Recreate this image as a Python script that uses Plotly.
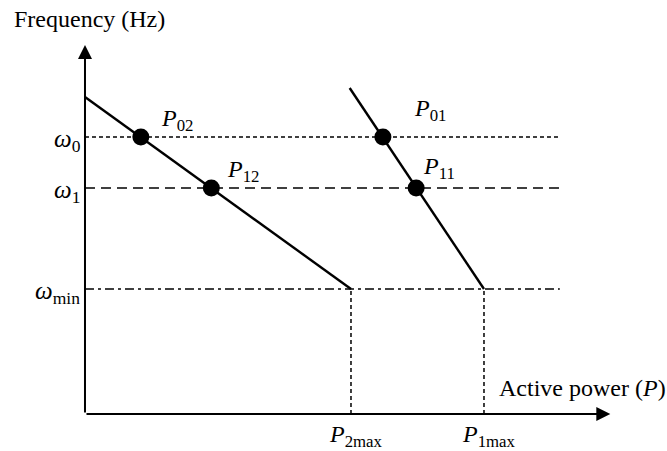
import plotly.graph_objects as go

# Frequency levels (per-unit style values on the vertical axis)
w_levels = {"w0": 2.77, "w1": 2.26, "wmin": 1.25}

# Droop characteristic of unit 2 (shallow): start at P=0, end at P2max
droop2_P = [0.0, 2.0]
droop2_w = [3.17, 1.25]
# Droop characteristic of unit 1 (steep)
droop1_P = [1.99, 3.0]
droop1_w = [3.26, 1.25]

# Operating points on each characteristic
op_names = ["P<sub>02</sub>", "P<sub>12</sub>", "P<sub>01</sub>", "P<sub>11</sub>"]
op_P = [0.42, 0.95, 2.24, 2.49]
op_w = [2.77, 2.26, 2.77, 2.26]

# Maximum power of each unit
P2max = 2.0
P1max = 3.0

# Extent of the horizontal reference lines and the axes
ref_end = 3.57
x_axis_end = 3.95
y_axis_end = 3.69

FONT = "Liberation Serif"
BLACK = "#000000"

fig = go.Figure()

# Horizontal reference lines for frequencies
fig.add_trace(go.Scatter(x=[0, ref_end], y=[w_levels["w0"]] * 2, mode="lines",
                         line=dict(color=BLACK, width=1.5, dash="4px,3px"), hoverinfo="skip"))
fig.add_trace(go.Scatter(x=[0, ref_end], y=[w_levels["w1"]] * 2, mode="lines",
                         line=dict(color=BLACK, width=1.5, dash="10px,6px"), hoverinfo="skip"))
fig.add_trace(go.Scatter(x=[0, ref_end], y=[w_levels["wmin"]] * 2, mode="lines",
                         line=dict(color=BLACK, width=1.5, dash="9px,4px,3px,4px"), hoverinfo="skip"))

# Vertical drop lines at the maximum powers
for pm in (P2max, P1max):
    fig.add_trace(go.Scatter(x=[pm, pm], y=[0, w_levels["wmin"]], mode="lines",
                             line=dict(color=BLACK, width=1.5, dash="4px,3px"), hoverinfo="skip"))

# Droop lines
fig.add_trace(go.Scatter(x=droop2_P, y=droop2_w, mode="lines",
                         line=dict(color=BLACK, width=2.4), hoverinfo="skip"))
fig.add_trace(go.Scatter(x=droop1_P, y=droop1_w, mode="lines",
                         line=dict(color=BLACK, width=2.4), hoverinfo="skip"))

# Operating points
fig.add_trace(go.Scatter(x=op_P, y=op_w, mode="markers",
                         marker=dict(color=BLACK, size=17), hoverinfo="skip"))

annotations = []

# Axes with arrowheads
annotations.append(dict(x=x_axis_end, y=0, ax=0, ay=0, xref="x", yref="y", axref="x", ayref="y",
                        text="", showarrow=True, arrowhead=2, arrowsize=1.4, arrowwidth=2,
                        arrowcolor=BLACK))
annotations.append(dict(x=0, y=y_axis_end, ax=0, ay=0, xref="x", yref="y", axref="x", ayref="y",
                        text="", showarrow=True, arrowhead=2, arrowsize=1.4, arrowwidth=2,
                        arrowcolor=BLACK))

# Axis titles
annotations.append(dict(x=-0.55, y=3.95, xref="x", yref="y", xanchor="left", yanchor="middle",
                        text="Frequency (Hz)", showarrow=False,
                        font=dict(family=FONT, size=24, color=BLACK)))
annotations.append(dict(x=1.0, y=0.26, xref="paper", yref="y", xanchor="right", yanchor="middle",
                        xshift=1, text="Active power (<i>P</i>)", showarrow=False,
                        font=dict(family=FONT, size=24, color=BLACK)))

# Frequency level labels (left edges of the labels)
w_text = {"w0": "<i>ω</i><sub>0</sub>", "w1": "<i>ω</i><sub>1</sub>", "wmin": "<i>ω</i><sub>min</sub>"}
w_label_x = {"w0": -0.25, "w1": -0.25, "wmin": -0.39}
for key, txt in w_text.items():
    annotations.append(dict(x=w_label_x[key], y=w_levels[key] - 0.03, xref="x", yref="y",
                            xanchor="left", yanchor="middle", text=txt, showarrow=False,
                            font=dict(family=FONT, size=25, color=BLACK)))

# Operating point labels
label_dx = [0.14, 0.10, 0.22, 0.04]
label_dy = [0.17, 0.17, 0.27, 0.20]
for name, p, w, dx, dy in zip(op_names, op_P, op_w, label_dx, label_dy):
    annotations.append(dict(x=p + dx, y=w + dy, xref="x", yref="y", xanchor="left",
                            yanchor="middle", text="<i>P</i>" + name[1:], showarrow=False,
                            font=dict(family=FONT, size=24, color=BLACK)))

# Maximum power labels
for pm, txt in ((P2max, "<i>P</i><sub>2max</sub>"), (P1max, "<i>P</i><sub>1max</sub>")):
    annotations.append(dict(x=pm + 0.04, y=-0.22, xref="x", yref="y", xanchor="center",
                            yanchor="middle", text=txt, showarrow=False,
                            font=dict(family=FONT, size=24, color=BLACK)))

fig.update_layout(
    width=667, height=451,
    margin=dict(l=0, r=0, t=0, b=0),
    paper_bgcolor="white", plot_bgcolor="white",
    showlegend=False,
    xaxis=dict(range=[-0.639, 4.376], visible=False, fixedrange=True),
    yaxis=dict(range=[-0.37, 4.14], visible=False, fixedrange=True),
    annotations=annotations,
)

fig.write_html("out.html")
